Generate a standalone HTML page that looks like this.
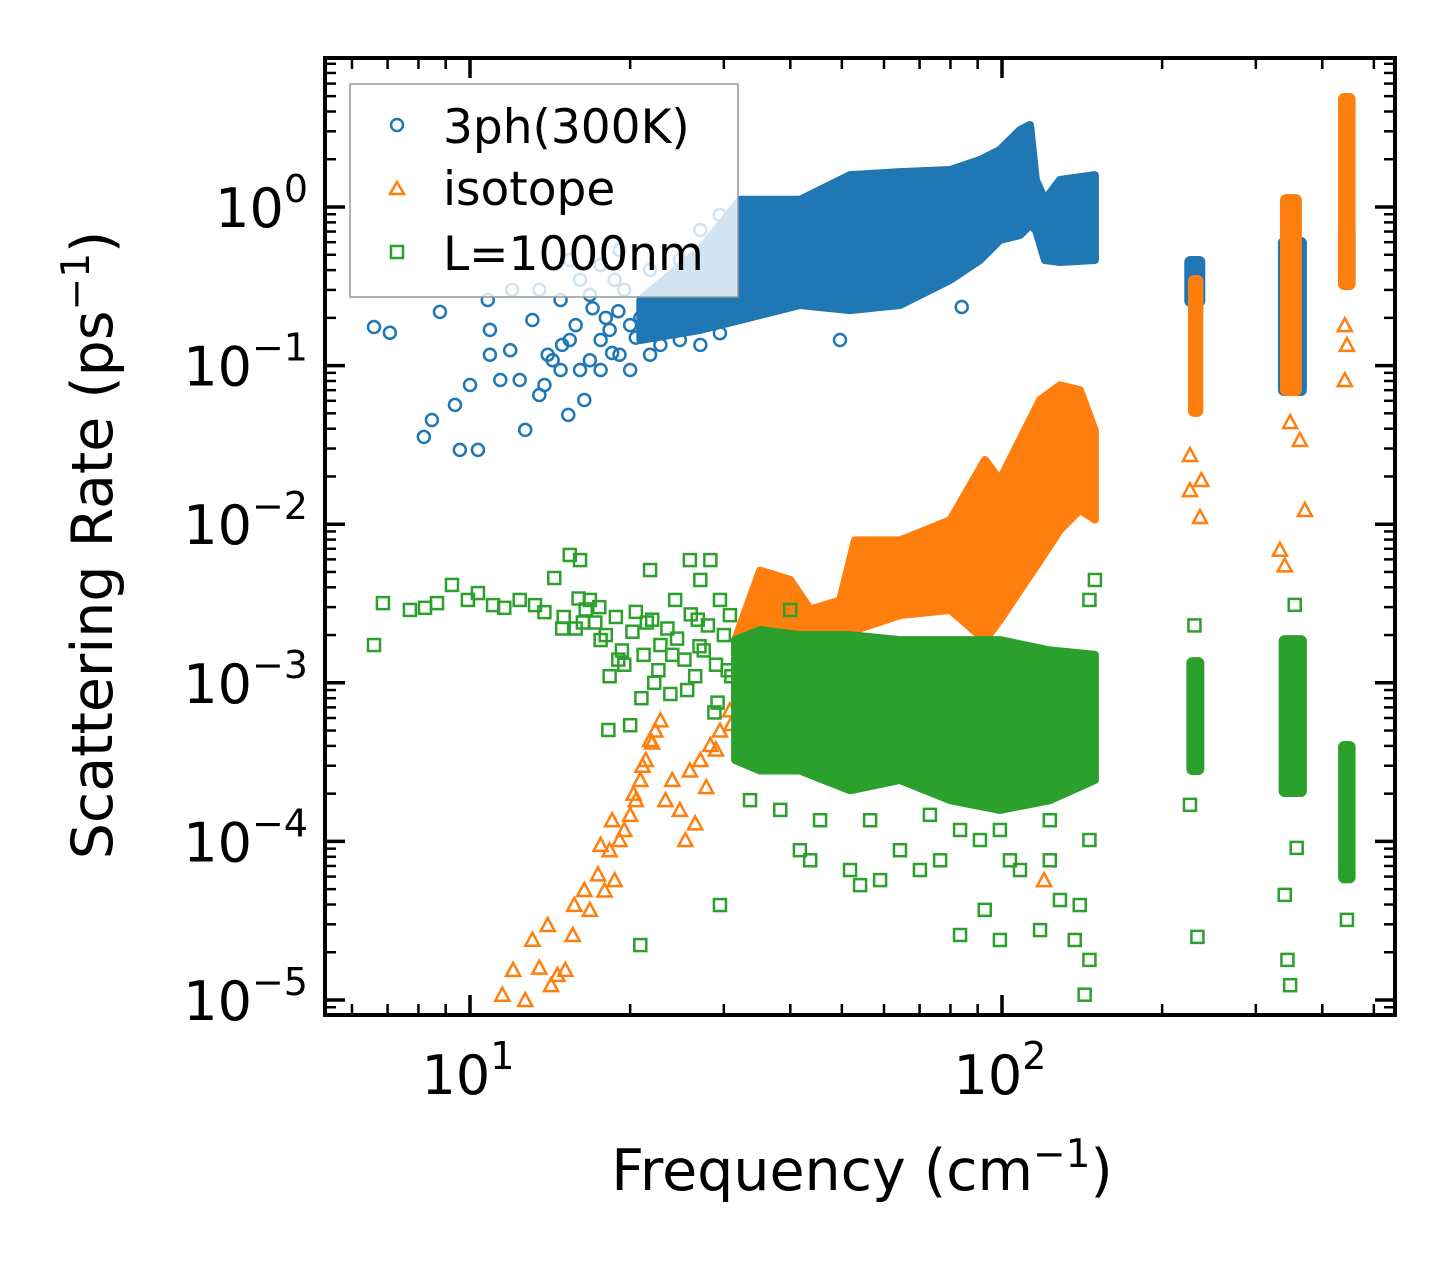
<!DOCTYPE html>
<html><head><meta charset="utf-8"><style>
html,body{margin:0;padding:0;background:#fff;}
svg{display:block;font-family:"DejaVu Sans","Liberation Sans",sans-serif;}
</style></head><body>
<svg id="chart" width="1455" height="1265" viewBox="0 0 1455 1265" xmlns="http://www.w3.org/2000/svg">
<rect width="1455" height="1265" fill="#fff"/>
<defs><clipPath id="pc"><rect x="325" y="58" width="1070" height="957"/></clipPath></defs>
<g id="marks" clip-path="url(#pc)"></g>
<g id="axes"></g>
<g>
<rect x="350" y="84" width="388" height="213" fill="rgba(255,255,255,0.8)" stroke="#999" stroke-width="1.5"/>
<circle cx="397" cy="125" r="6" fill="none" stroke="#1f77b4" stroke-width="2.5"/>
<text x="443" y="143" font-size="47">3ph(300K)</text>
<polygon points="390,194 404,194 397,182" fill="none" stroke="#ff7f0e" stroke-width="2.5"/>
<text x="443" y="205" font-size="47">isotope</text>
<rect x="391" y="246" width="12" height="12" fill="none" stroke="#2ca02c" stroke-width="2.5"/>
<text x="443" y="270" font-size="47">L=1000nm</text>
</g>
<text x="862" y="1190" font-size="57" text-anchor="middle">Frequency (cm<tspan dy="-23" font-size="39">−1</tspan><tspan dy="23">)</tspan></text>
<text transform="translate(112,545) rotate(-90)" font-size="57" text-anchor="middle">Scattering Rate (ps<tspan dy="-23" font-size="39">−1</tspan><tspan dy="23">)</tspan></text>
</svg>
<script>
// ---- data ----
const blueBandF  = [20.9,27.1,32.2,41.7,51.8,64.3,79.9,90.9,99.1,108.1,112.9,115.8,120.4,128.5,149.5];
const blueBandHi = [0.26,0.54,1.11,1.11,1.59,1.66,1.71,1.98,2.29,3.06,3.29,1.48,1.11,1.48,1.59];
const blueBandLo = [0.145,0.168,0.194,0.241,0.224,0.241,0.347,0.463,0.619,0.666,0.77,0.716,0.463,0.45,0.463];
const isoBandF  = [31.5,35.1,40.0,43.6,49.6,52.9,64.3,79.9,92.9,99.1,108.1,117.9,128.5,140.1,149.5];
const isoBandHi = [1.86e-3,5.1e-3,4.45e-3,2.9e-3,3.3e-3,7.9e-3,7.9e-3,1.06e-2,2.54e-2,1.9e-2,3.4e-2,6.07e-2,7.5e-2,7.0e-2,3.9e-2];
const isoBandLo = [7.8e-4,7.8e-4,9.0e-4,1.04e-3,1.04e-3,2.15e-3,2.67e-3,2.88e-3,1.86e-3,2.49e-3,3.85e-3,5.9e-3,9.2e-3,1.23e-2,1.07e-2];
const bndBandF  = [31.5,35.1,41.7,51.8,64.3,79.9,99.1,123,149.5];
const bndBandHi = [1.86e-3,2.15e-3,2.0e-3,2.0e-3,1.86e-3,1.86e-3,1.86e-3,1.6e-3,1.5e-3];
const bndBandLo = [3.26e-4,2.8e-4,2.8e-4,2.1e-4,2.44e-4,1.82e-4,1.58e-4,1.82e-4,2.44e-4];
// optical-branch columns: [fLeft, fRight, low, high]
const blueCols = [[222,239,0.241,0.477],[333,371,0.0662,0.629],[432,458,0.309,0.738]];
const isoCols  = [[225.6,237,0.0489,0.362],[336,363,0.0662,1.17],[432,458,0.309,5.08]];
const bndCols  = [[224,238,2.7e-4,1.41e-3],[334,371,1.96e-4,1.94e-3],[432,458,5.6e-5,4.17e-4]];
const blueF = [6.6,7.07,8.19,8.78,8.48,9.37,9.57,10,10.35,10.9,10.9,11.4,10.8,11.9,12.4,12.7,13.1,13.5,13.8,14.0,14.3,14.8,14.9,15.3,15.4,15.8,16.4,16.1,16.8,17.6,16.8,18.3,19.1,20.0,20.9,17.6,18.7,19.5,14.8,13.5,12.0,16.1,17.6,19.1,15.4,21.8,24.8,27.1,29.5,32.2,84,49.6,22.8,24.8,27.1,29.5,21.8,20.0,18.0,19.0,20.5,21.5,23.0,17.0,18.5];
const blueY = [0.175,0.161,0.0355,0.218,0.0454,0.0565,0.0294,0.0755,0.0294,0.168,0.117,0.0811,0.259,0.125,0.0811,0.0393,0.194,0.0653,0.0755,0.117,0.108,0.0938,0.135,0.0489,0.145,0.18,0.0607,0.0938,0.108,0.145,0.279,0.168,0.117,0.18,0.2,0.0938,0.347,0.3,0.259,0.3,0.3,0.347,0.431,0.535,0.463,0.401,0.463,0.716,0.89,0.77,0.234,0.145,0.135,0.145,0.135,0.16,0.117,0.0938,0.2,0.22,0.15,0.24,0.19,0.23,0.12];
const isoF = [11.5,12.05,12.7,13.1,13.5,14.0,14.2,14.6,15.1,15.6,15.7,16.4,16.8,17.4,17.9,18.3,18.7,19.1,19.5,20.0,20.5,20.9,21.4,21.8,22.3,22.8,18.5,17.6,23.3,24.0,24.8,25.4,25.9,27.1,28.3,29.5,30.8,32.2,33.6,120,225.6,235.6,225.6,237,333,340,363,371,348,441,445,441,20.3,21.1,22.0,26.5,27.8,29.0,31.0];
const isoY = [1.08e-5,1.55e-5,1.0e-5,2.4e-5,1.6e-5,2.97e-5,1.24e-5,1.44e-5,1.55e-5,2.57e-5,3.98e-5,4.94e-5,3.7e-5,6.2e-5,4.9e-5,8.8e-5,5.7e-5,1.02e-4,1.18e-4,1.47e-4,1.82e-4,2.44e-4,3.26e-4,4.36e-4,5.0e-4,5.8e-4,1.36e-4,9.5e-5,1.82e-4,2.44e-4,1.58e-4,1.02e-4,2.8e-4,3.26e-4,4.05e-4,5.0e-4,6.7e-4,9.0e-4,1.2e-3,5.7e-5,1.64e-2,1.11e-2,2.73e-2,1.9e-2,6.9e-3,5.5e-3,3.4e-2,1.23e-2,4.4e-2,0.18,0.135,0.081,2.0e-4,3.0e-4,4.2e-4,1.3e-4,2.2e-4,3.8e-4,5.5e-4];
const bndF = [6.6,6.86,7.71,8.23,8.67,9.25,9.91,10.35,11.05,11.6,12.4,13.25,13.8,14.4,15.4,16.1,16.8,17.6,18.2,20.0,21.8,22.8,24.3,25.9,27.1,28.3,29.5,30.8,35.1,40.0,29.5,20.9,41.7,43.6,51.8,54.1,59.0,64.3,70.1,76.5,83.4,92.8,99.1,108.1,117.9,103.5,128.5,137,146,140,143,123,83.4,99.1,56.5,33.6,38.3,45.5,73.2,90.9,123,146,149.5,146,233,225.6,230,340,344,348,355,358,445,445,14.9,16.3,19.5,21.0,26.5,15.0,15.8,16.5,17.2,18.0,18.8,19.3,20.2,21.2,22.0,22.6,23.5,24.5,25.3,26.0,27.0,28.0,29.0,30.0,31.0,17.5,19.0,20.5,22.2,24.0,25.6,27.5,29.2,30.5,16.0,18.3,21.5,23.8,26.8,28.8];
const bndY = [1.73e-3,3.18e-3,2.88e-3,2.97e-3,3.18e-3,4.14e-3,3.33e-3,3.68e-3,3.09e-3,2.97e-3,3.33e-3,3.09e-3,2.79e-3,4.58e-3,6.4e-3,5.94e-3,3.33e-3,1.86e-3,5.04e-4,5.4e-4,5.14e-3,1.73e-3,3.33e-3,5.94e-3,4.45e-3,5.94e-3,3.33e-3,2.67e-3,1.86e-3,2.88e-3,3.97e-5,2.22e-5,8.8e-5,7.6e-5,6.6e-5,5.3e-5,5.7e-5,8.8e-5,6.6e-5,7.6e-5,1.18e-4,3.7e-5,2.39e-5,6.6e-5,2.76e-5,7.6e-5,4.27e-5,2.39e-5,1.79e-5,3.97e-5,1.08e-5,7.6e-5,2.57e-5,1.18e-4,1.36e-4,1.82e-4,1.58e-4,1.36e-4,1.47e-4,1.02e-4,1.36e-4,1.02e-4,4.45e-3,3.33e-3,2.5e-5,1.7e-4,2.3e-3,4.6e-5,1.79e-5,1.24e-5,3.1e-3,9.1e-5,3.2e-5,6.6e-5,2.2e-3,2.4e-3,1.3e-3,8.0e-4,1.1e-3,2.6e-3,2.2e-3,2.9e-3,2.4e-3,2.0e-3,2.6e-3,1.6e-3,2.1e-3,1.5e-3,2.5e-3,1.2e-3,2.2e-3,1.9e-3,1.4e-3,2.7e-3,1.7e-3,2.3e-3,1.3e-3,2.0e-3,1.1e-3,3.0e-3,1.4e-3,2.8e-3,1.0e-3,1.5e-3,9.0e-4,1.6e-3,7.5e-4,1.2e-3,3.4e-3,1.1e-3,2.4e-3,8.5e-4,2.5e-3,6.5e-4];
const xMajor = [10,100];
const xMajorLabels = ["1","2"];
const yMajor = [1e0,1e-1,1e-2,1e-3,1e-4,1e-5];
const yMajorLabels = ["0","−1","−2","−3","−4","−5"];

// ---- axes ----
const X0=470, XD=532, Y0=207, YD=158.6;
const L=325,R=1395,T=58,B=1015;
function sx(f){return X0+XD*(Math.log10(f)-1);}
function sy(v){return Y0-YD*Math.log10(v);}
const NS="http://www.w3.org/2000/svg";
const marks=document.getElementById('marks'), axes=document.getElementById('axes');
function mk(tag,attrs,parent){const e=document.createElementNS(NS,tag);for(const k in attrs)e.setAttribute(k,attrs[k]);parent.appendChild(e);return e;}
const C={b:'#1f77b4',o:'#ff7f0e',g:'#2ca02c'};

function band(F,Hi,Lo,col,name){
  let p=[];
  for(let i=0;i<F.length;i++)p.push(sx(F[i]).toFixed(1)+','+sy(Hi[i]).toFixed(1));
  for(let i=F.length-1;i>=0;i--)p.push(sx(F[i]).toFixed(1)+','+sy(Lo[i]).toFixed(1));
  const e=mk('polygon',{points:p.join(' '),fill:col,stroke:col,'stroke-width':8,'stroke-linejoin':'round'},marks);
  
  
}
function cols(arr,col,name){
  arr.forEach((c,i)=>{
    const x1=sx(c[0]),x2=sx(c[1]),y1=sy(c[3]),y2=sy(c[2]);
    const e=mk('rect',{x:x1,y:y1,width:x2-x1,height:y2-y1,fill:col,stroke:col,'stroke-width':4,rx:4},marks);
    
    
  });
}
function pts(F,Y,kind,col,name){
  for(let i=0;i<F.length;i++){
    const x=sx(F[i]),y=sy(Y[i]);let e;
    if(kind==='c')e=mk('circle',{cx:x,cy:y,r:6,fill:'none',stroke:col,'stroke-width':2.5},marks);
    else if(kind==='t')e=mk('polygon',{points:`${x-7},${y+6} ${x+7},${y+6} ${x},${y-7}`,fill:'none',stroke:col,'stroke-width':2.5},marks);
    else e=mk('rect',{x:x-6,y:y-6,width:12,height:12,fill:'none',stroke:col,'stroke-width':2.5},marks);
    
    
  }
}
band(blueBandF,blueBandHi,blueBandLo,C.b,'3ph-dense-region');
cols(blueCols,C.b,'3ph-optical-column');
pts(blueF,blueY,'c',C.b,'3ph-point');
band(isoBandF,isoBandHi,isoBandLo,C.o,'isotope-dense-region');
cols(isoCols,C.o,'isotope-optical-column');
pts(isoF,isoY,'t',C.o,'isotope-point');
band(bndBandF,bndBandHi,bndBandLo,C.g,'boundary-dense-region');
cols(bndCols,C.g,'boundary-optical-column');
pts(bndF,bndY,'s',C.g,'boundary-point');

// frame
const fr=mk('rect',{x:L,y:T,width:R-L,height:B-T,fill:'none',stroke:'#000','stroke-width':4},axes);


function tick(x1,y1,x2,y2,w,name){const e=mk('line',{x1,y1,x2,y2,stroke:'#000','stroke-width':w},axes);
  
  }
for(let d=0;d<=2;d++){for(let m=1;m<=9;m++){const f=m*Math.pow(10,d);const x=sx(f);if(x<L+2||x>R-2)continue;
  const len=m===1?20:11,w=m===1?3.5:2.5;
  tick(x,B,x,B-len,w,'x-tick');tick(x,T,x,T+len,w,'x-tick-top');}}
xMajor.forEach((f,i)=>{const t=mk('text',{x:sx(f)-2,y:1094,'font-size':54,'text-anchor':'middle'},axes);
  t.innerHTML='10<tspan dy="-25" font-size="38">'+xMajorLabels[i]+'</tspan>';
  
  });
for(let d=-6;d<=0;d++){for(let m=1;m<=9;m++){const v=m*Math.pow(10,d);const y=sy(v);if(y<T+2||y>B-2)continue;
  const len=m===1?20:11,w=m===1?3.5:2.5;
  tick(L,y,L+len,y,w,'y-tick');tick(R,y,R-len,y,w,'y-tick-right');}}
yMajor.forEach((v,i)=>{const t=mk('text',{x:308,y:sy(v)+20,'font-size':54,'text-anchor':'end'},axes);
  t.innerHTML='10<tspan dy="-25" font-size="38">'+yMajorLabels[i]+'</tspan>';
  
  });
</script>
</body></html>
